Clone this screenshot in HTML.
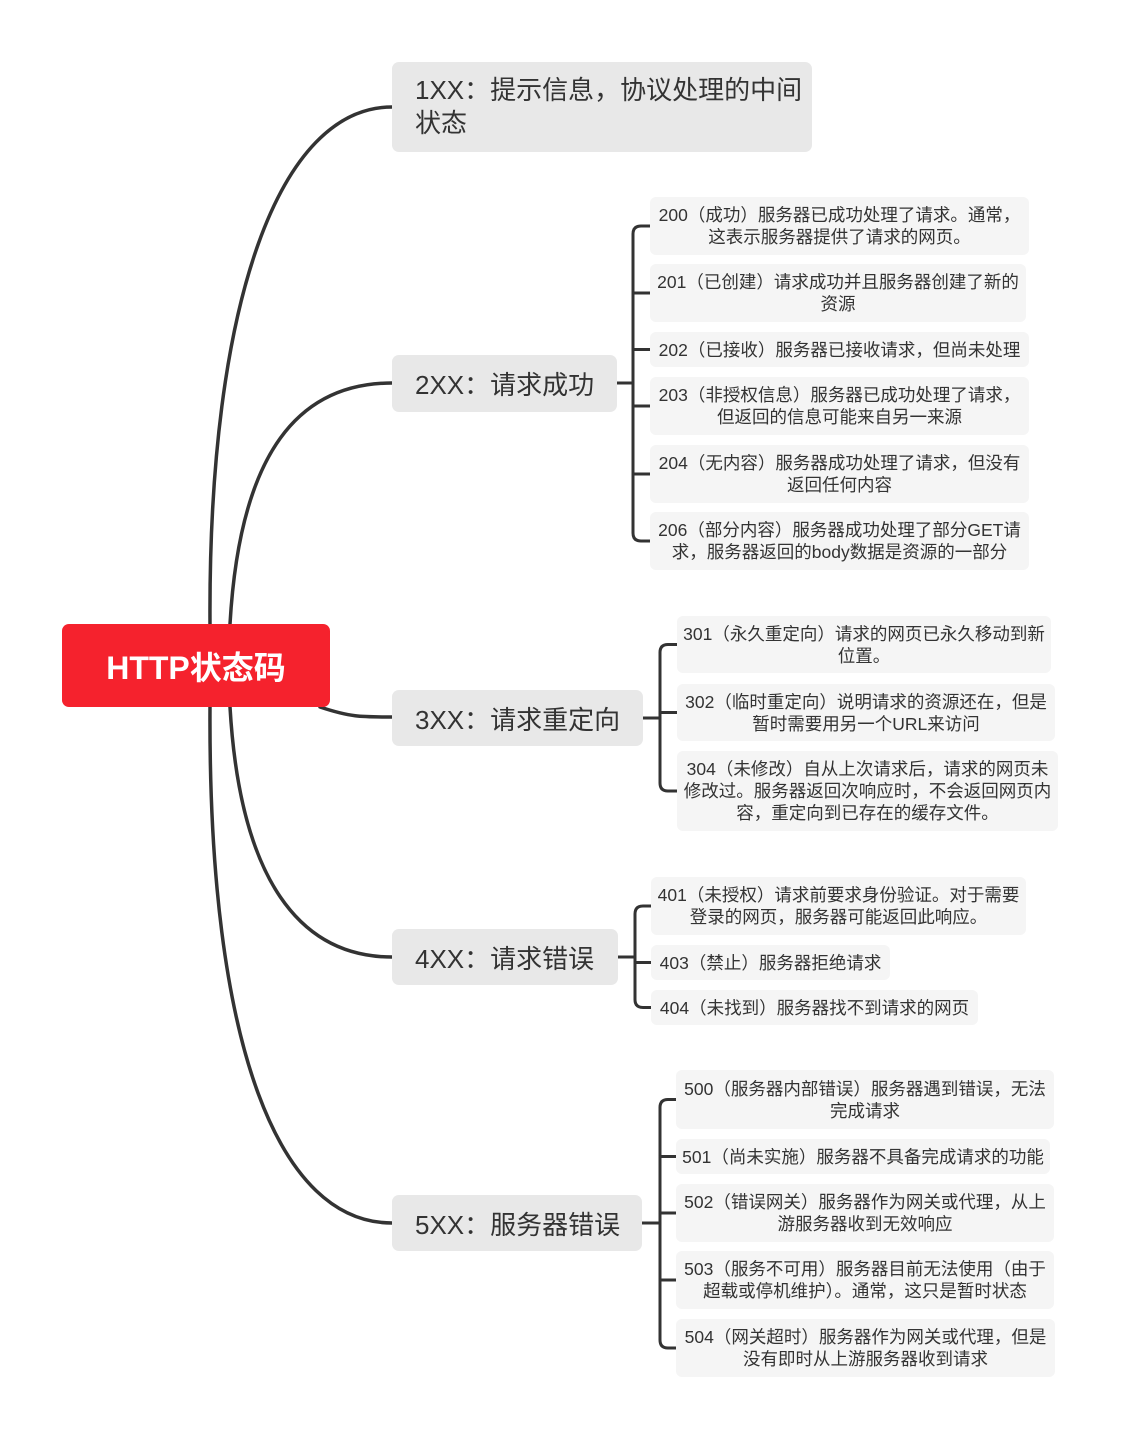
<!DOCTYPE html>
<html><head><meta charset="utf-8">
<style>
body{margin:0;width:1121px;height:1440px;background:#fff;position:relative;overflow:hidden;font-family:"Liberation Sans","Noto Sans CJK SC",sans-serif;}
.b{position:absolute;box-sizing:border-box;}
.root{left:62px;top:624px;width:268px;height:83px;background:#f5222d;border-radius:7px;color:#fff;font-weight:bold;font-size:32px;display:flex;align-items:center;justify-content:center;}
.l1{background:#e8e8e8;border-radius:7px;color:#333;font-size:26px;display:flex;align-items:center;padding-left:23px;white-space:nowrap;}
.lf{background:#f5f5f5;border-radius:6px;color:#333;font-size:17.5px;line-height:22px;text-align:center;display:flex;align-items:center;justify-content:center;white-space:nowrap;}
svg{position:absolute;left:0;top:0;}
</style></head><body>
<svg width="1121" height="1440" fill="none" stroke="#333" stroke-width="3.5" stroke-linecap="round">
<path d="M210 624 C 208 300, 280 107, 392 107"/>
<path d="M230 624 C 240 450, 300 383, 392 383"/>
<path d="M320 707 C 350 717, 360 717, 392 717"/>
<path d="M230 707 C 240 880, 300 957, 392 957"/>
<path d="M210 707 C 208 1050, 280 1223, 392 1223"/>
<g stroke-width="3">
<path d="M650 226 H641 Q633 226 633 234 V533 Q633 541 641 541 H650"/>
<path d="M617 383 H633 M633 293 H650 M633 349.5 H650 M633 406 H650 M633 474 H650"/>
<path d="M677 644.5 H668 Q660 644.5 660 652.5 V783 Q660 791 668 791 H677"/>
<path d="M643 718 H660 M660 712.5 H677"/>
<path d="M651 906 H643 Q635 906 635 914 V999.5 Q635 1007.5 643 1007.5 H651"/>
<path d="M618 957 H635 M635 962.5 H651"/>
<path d="M676 1099.5 H668 Q660 1099.5 660 1107.5 V1340 Q660 1348 668 1348 H676"/>
<path d="M642 1223 H660 M660 1156.5 H676 M660 1213 H676 M660 1280 H676"/>
</g>
</svg>
<div class="b root">HTTP状态码</div>
<div class="b l1" style="left:392px;top:62px;width:420px;height:90px;line-height:33px;">1XX：提示信息，协议处理的中间<br>状态</div>
<div class="b l1" style="left:392px;top:355px;width:225px;height:57px;">2XX：请求成功</div>
<div class="b l1" style="left:392px;top:690px;width:251px;height:56px;">3XX：请求重定向</div>
<div class="b l1" style="left:392px;top:929px;width:226px;height:56px;">4XX：请求错误</div>
<div class="b l1" style="left:392px;top:1195px;width:250px;height:56px;">5XX：服务器错误</div>

<div class="b lf" style="left:650px;top:197px;width:379px;height:58px;">200（成功）服务器已成功处理了请求。通常，<br>这表示服务器提供了请求的网页。</div>
<div class="b lf" style="left:650px;top:264px;width:376px;height:58px;">201（已创建）请求成功并且服务器创建了新的<br>资源</div>
<div class="b lf" style="left:650px;top:332px;width:379px;height:35px;">202（已接收）服务器已接收请求，但尚未处理</div>
<div class="b lf" style="left:650px;top:377px;width:379px;height:58px;">203（非授权信息）服务器已成功处理了请求，<br>但返回的信息可能来自另一来源</div>
<div class="b lf" style="left:650px;top:445px;width:379px;height:58px;">204（无内容）服务器成功处理了请求，但没有<br>返回任何内容</div>
<div class="b lf" style="left:650px;top:512px;width:379px;height:58px;">206（部分内容）服务器成功处理了部分GET请<br>求，服务器返回的body数据是资源的一部分</div>

<div class="b lf" style="left:677px;top:616px;width:374px;height:57px;">301（永久重定向）请求的网页已永久移动到新<br>位置。</div>
<div class="b lf" style="left:677px;top:684px;width:378px;height:57px;">302（临时重定向）说明请求的资源还在，但是<br>暂时需要用另一个URL来访问</div>
<div class="b lf" style="left:677px;top:751px;width:381px;height:80px;">304（未修改）自从上次请求后，请求的网页未<br>修改过。服务器返回次响应时，不会返回网页内<br>容，重定向到已存在的缓存文件。</div>

<div class="b lf" style="left:651px;top:877px;width:375px;height:58px;">401（未授权）请求前要求身份验证。对于需要<br>登录的网页，服务器可能返回此响应。</div>
<div class="b lf" style="left:651px;top:945px;width:239px;height:35px;">403（禁止）服务器拒绝请求</div>
<div class="b lf" style="left:651px;top:990px;width:327px;height:35px;">404（未找到）服务器找不到请求的网页</div>

<div class="b lf" style="left:676px;top:1070px;width:378px;height:59px;">500（服务器内部错误）服务器遇到错误，无法<br>完成请求</div>
<div class="b lf" style="left:676px;top:1139px;width:374px;height:35px;">501（尚未实施）服务器不具备完成请求的功能</div>
<div class="b lf" style="left:676px;top:1184px;width:378px;height:58px;">502（错误网关）服务器作为网关或代理，从上<br>游服务器收到无效响应</div>
<div class="b lf" style="left:676px;top:1251px;width:378px;height:58px;">503（服务不可用）服务器目前无法使用（由于<br>超载或停机维护）。通常，这只是暂时状态</div>
<div class="b lf" style="left:676px;top:1319px;width:379px;height:58px;">504（网关超时）服务器作为网关或代理，但是<br>没有即时从上游服务器收到请求</div>
</body></html>
